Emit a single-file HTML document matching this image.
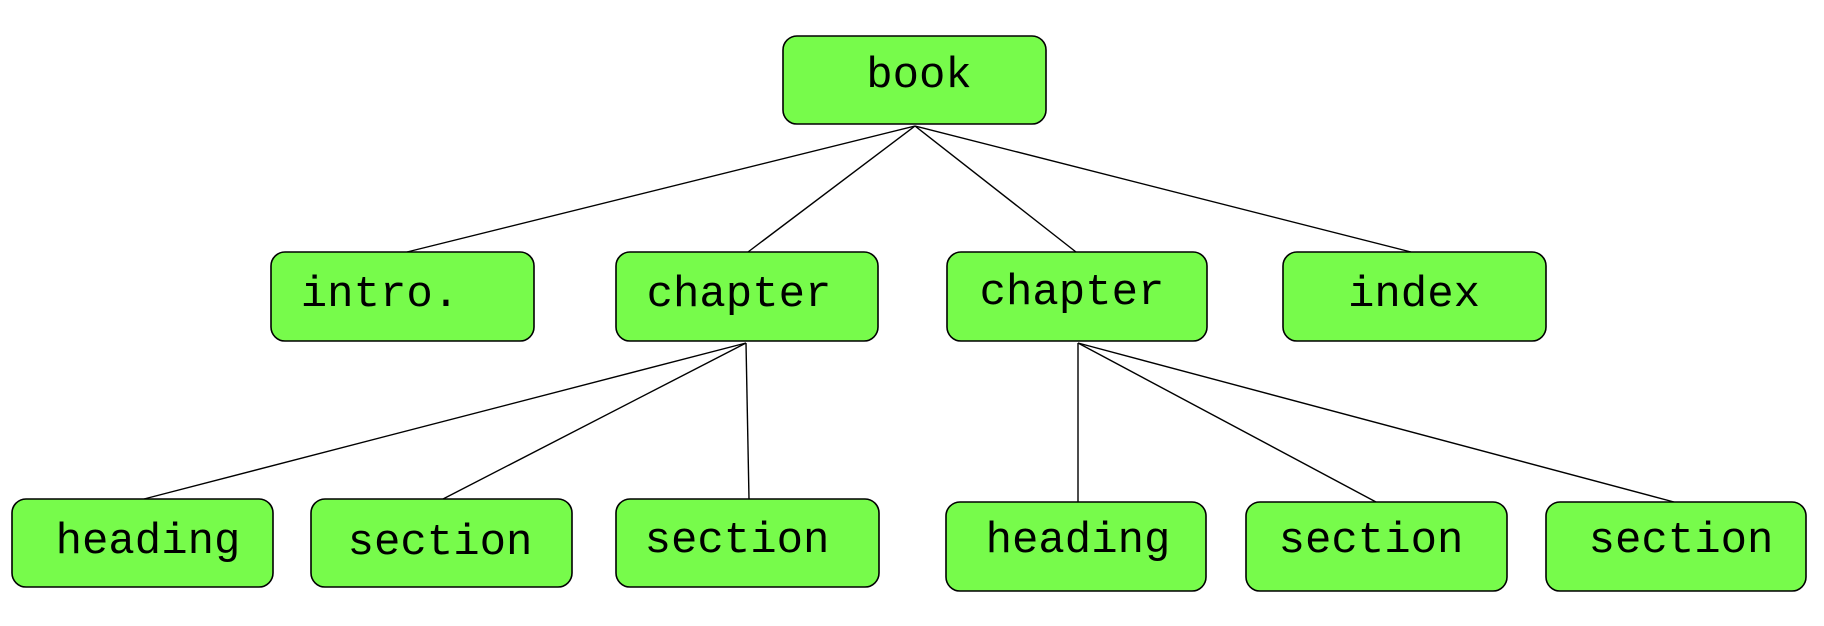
<!DOCTYPE html>
<html><head><meta charset="utf-8"><style>
html,body{margin:0;padding:0;background:#fff;}
svg{display:block;}
text{font-family:"Liberation Mono",monospace;font-size:44px;fill:#000;text-anchor:middle;dominant-baseline:central;}
rect{fill:#77fb4b;stroke:#000;stroke-width:1.6;}
line{stroke:#000;stroke-width:1.4;}
</style></head><body>
<svg width="1824" height="626" viewBox="0 0 1824 626" xmlns="http://www.w3.org/2000/svg">
<line x1="915" y1="126" x2="407" y2="252"/>
<line x1="915" y1="126" x2="748" y2="252"/>
<line x1="915" y1="126" x2="1076" y2="252"/>
<line x1="915" y1="126" x2="1411" y2="252"/>
<line x1="746" y1="343" x2="144" y2="499"/>
<line x1="746" y1="343" x2="443" y2="499"/>
<line x1="746" y1="343" x2="749" y2="499"/>
<line x1="1078" y1="343" x2="1078" y2="502"/>
<line x1="1078" y1="343" x2="1376" y2="502"/>
<line x1="1078" y1="343" x2="1674" y2="502"/>
<rect x="783" y="36" width="263" height="88" rx="14"/>
<rect x="271" y="252" width="263" height="89" rx="14"/>
<rect x="616" y="252" width="262" height="89" rx="14"/>
<rect x="947" y="252" width="260" height="89" rx="14"/>
<rect x="1283" y="252" width="263" height="89" rx="14"/>
<rect x="12" y="499" width="261" height="88" rx="14"/>
<rect x="311" y="499" width="261" height="88" rx="14"/>
<rect x="616" y="499" width="263" height="88" rx="14"/>
<rect x="946" y="502" width="260" height="89" rx="14"/>
<rect x="1246" y="502" width="261" height="89" rx="14"/>
<rect x="1546" y="502" width="260" height="89" rx="14"/>
<text x="919" y="76">book</text>
<text x="380" y="295">intro.</text>
<text x="739" y="295">chapter</text>
<text x="1072" y="293">chapter</text>
<text x="1414" y="295">index</text>
<text x="148" y="542">heading</text>
<text x="440" y="543">section</text>
<text x="737" y="541">section</text>
<text x="1078" y="541">heading</text>
<text x="1371" y="541">section</text>
<text x="1681" y="541">section</text>
</svg>
</body></html>
